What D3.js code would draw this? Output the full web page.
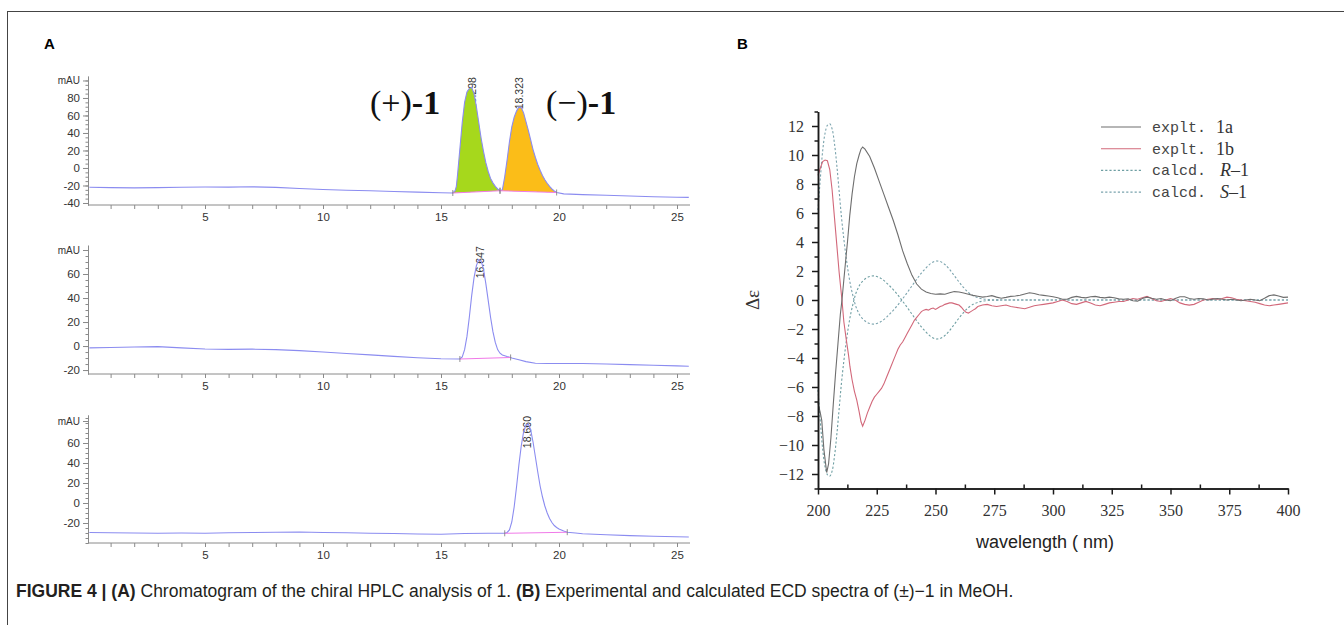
<!DOCTYPE html>
<html>
<head>
<meta charset="utf-8">
<script src="https://cdn.jsdelivr.net/npm/d3@7"></script>
<style>
body { margin: 0; background: #fff; }
svg { display: block; }
</style>
</head>
<body>
<script>
// ---------- Panel A data: chromatograms (time in min, signal in mAU) ----------
var chromXTicks = [5, 10, 15, 20, 25];

var topTrace = [[0.1,-22],[1,-22.4],[2,-22.7],[3,-22.4],[4,-22.0],[5,-21.7],[6,-21.9],[7,-21.5],[8,-22.2],[9,-23.4],[10,-24.6],[11,-25.4],[12,-26.1],[13,-26.8],[14,-27.6],[15,-28.3],[15.5,-28.6],[15.6,-26],[15.65,-21],[15.7,-8],[15.8,22],[15.9,52],[16.0,75],[16.1,87],[16.2,91],[16.3,92],[16.4,85],[16.5,70],[16.6,52],[16.7,34],[16.8,19],[16.9,6],[17.0,-4],[17.1,-12],[17.2,-17],[17.3,-21],[17.4,-24],[17.5,-26],[17.6,-25],[17.7,-10],[17.8,9],[17.9,30],[18.0,47],[18.1,58],[18.2,65],[18.3,69.5],[18.4,69],[18.5,63],[18.6,53],[18.7,43],[18.8,32],[18.9,21],[19.0,12],[19.1,4],[19.2,-2.5],[19.3,-8.5],[19.4,-13.5],[19.5,-17.5],[19.6,-21],[19.7,-24],[19.8,-26.3],[19.9,-28],[20.2,-29.6],[21,-30.4],[22,-31.2],[23,-32],[24,-32.8],[25,-33.4],[25.5,-33.6]];
var topYTicks = [-40, -20, 0, 20, 40, 60, 80];
var topPeakRt = [16.298, 18.323];
var topPeakLabels = ["16.298", "18.323"];
var topPeakStart = [[15.5, -28.6], [17.5, -26]];
var topPeakEnd = [[17.5, -26], [19.9, -28]];

var midTrace = [[0.1,-1.5],[1,-1.2],[2,-0.8],[3,-0.5],[4,-1.5],[5,-2.5],[6,-2.8],[7,-2.6],[8,-3.0],[9,-3.8],[10,-5.0],[11,-6.2],[12,-7.4],[13,-8.6],[14,-9.8],[15,-10.6],[15.8,-10.8],[15.9,-9],[16.0,-3],[16.1,8],[16.2,24],[16.3,42],[16.4,57],[16.5,67],[16.6,72],[16.7,71],[16.8,64],[16.9,52],[17.0,38],[17.1,24],[17.2,12],[17.3,3],[17.4,-3],[17.5,-6],[17.6,-7.5],[17.8,-8.8],[17.95,-9.5],[18.0,-10],[18.3,-11.5],[18.6,-13],[19.0,-14.3],[19.5,-14.6],[20,-14.5],[21,-14.6],[22,-15],[23,-15.5],[24,-16],[25,-16.5],[25.5,-16.8]];
var midYTicks = [-20, 0, 20, 40, 60];
var midPeakRt = [16.647];
var midPeakLabels = ["16.647"];
var midPeakStart = [[15.8, -10.8]];
var midPeakEnd = [[17.95, -9.5]];

var botTrace = [[0.1,-29.5],[1,-29.8],[2,-30],[3,-30.2],[4,-30],[5,-30.2],[6,-29.8],[7,-29.5],[8,-29.2],[9,-29],[10,-29.5],[11,-29.8],[12,-30.2],[13,-30.5],[14,-31],[15,-31.2],[16,-30.5],[17,-30.2],[17.7,-30.3],[17.8,-29.5],[17.9,-27],[18.0,-19],[18.1,-4],[18.2,16],[18.3,38],[18.4,57],[18.5,71],[18.6,78],[18.7,79],[18.8,73],[18.9,61],[19.0,46],[19.1,31],[19.2,17],[19.3,6],[19.4,-3],[19.5,-10],[19.6,-15.5],[19.7,-19.5],[19.8,-22.5],[19.9,-24.5],[20.0,-26],[20.2,-28],[20.35,-29.2],[20.7,-30],[21,-30.8],[22,-31.8],[23,-32.6],[24,-33.2],[25,-33.8],[25.5,-34]];
var botYTicks = [-20, 0, 20, 40, 60];
var botPeakRt = [18.66];
var botPeakLabels = ["18.660"];
var botPeakStart = [[17.7, -30.3]];
var botPeakEnd = [[20.35, -29.2]];

// ---------- Panel B data: ECD spectra (wavelength nm, delta epsilon) ----------
var wavelengthTicks = [200, 225, 250, 275, 300, 325, 350, 375, 400];
var deltaEpsTicks = [-12, -10, -8, -6, -4, -2, 0, 2, 4, 6, 8, 10, 12];

var explt1a = [[200,-7.1],[201,-7.8],[201.6,-8.3],[202.5,-10.3],[203.7,-11.9],[204.5,-11.3],[205.5,-9.5],[206.5,-7.2],[207.5,-5.0],[208.5,-3.0],[209.5,-1.0],[210.2,0],[211,1.4],[212,3.1],[212.6,4.1],[213.5,5.8],[214.5,7.3],[215.5,8.5],[216.5,9.4],[217.5,10.0],[218.3,10.4],[219,10.55],[220,10.4],[222,9.9],[224,9.1],[226,8.2],[228,7.3],[230,6.4],[232,5.5],[234,4.5],[236,3.4],[238,2.5],[240,1.7],[242,1.1],[244,0.75],[246,0.55],[248,0.45],[250,0.4],[252,0.42],[254,0.4],[256,0.5],[258,0.58],[260,0.55],[262,0.48],[264,0.4],[266,0.32],[268,0.26],[270,0.2],[272,0.24],[274,0.3],[276,0.2],[278,0.12],[280,0.18],[282,0.25],[284,0.28],[286,0.33],[288,0.42],[290,0.5],[292,0.45],[294,0.36],[296,0.32],[298,0.28],[300,0.22],[302,0.15],[304,0.05],[306,0.05],[308,0.18],[310,0.25],[312,0.18],[314,0.15],[316,0.22],[318,0.25],[320,0.18],[322,0.15],[324,0.2],[326,0.15],[328,0.08],[330,0.05],[332,0.08],[334,-0.05],[336,-0.08],[338,0.1],[340,0.2],[342,0.12],[344,0.05],[346,0.1],[348,0.0],[350,-0.05],[352,0.1],[354,0.22],[356,0.22],[358,0.1],[360,0.05],[362,0.1],[364,0.08],[366,0.0],[368,0.06],[370,0.1],[372,0.05],[374,0.0],[376,0.05],[378,0.0],[380,-0.05],[382,0.0],[384,0.05],[386,0.0],[388,-0.05],[390,0.12],[392,0.3],[394,0.35],[396,0.28],[398,0.18],[400,0.2]];

var explt1b = [[200,8.6],[201,9.1],[202,9.55],[203,9.65],[204,9.6],[205,9.0],[206,7.6],[207,5.7],[208,3.8],[209,1.9],[210.2,0],[211,-1.5],[212,-2.7],[213,-3.8],[213.6,-4.6],[214.5,-5.5],[215.5,-6.3],[216.5,-6.9],[217.5,-7.7],[218.3,-8.4],[219,-8.7],[220,-8.3],[221,-7.8],[222,-7.4],[223,-7.0],[224,-6.7],[225,-6.5],[226,-6.3],[227,-6.1],[228,-5.8],[229,-5.4],[230,-5.0],[231,-4.6],[232,-4.2],[233,-3.8],[234,-3.4],[235,-3.1],[236,-2.9],[237,-2.6],[238,-2.3],[239,-2.0],[240,-1.7],[241,-1.4],[242,-1.2],[243,-1.0],[244,-0.8],[245,-0.7],[246,-0.65],[247,-0.7],[248,-0.6],[249,-0.55],[250,-0.65],[251,-0.55],[252,-0.45],[253,-0.4],[254,-0.3],[255,-0.25],[256,-0.2],[257,-0.2],[258,-0.25],[259,-0.3],[260,-0.35],[261,-0.5],[262,-0.7],[263,-0.85],[264,-0.9],[265,-0.8],[266,-0.7],[267,-0.6],[268,-0.45],[270,-0.35],[272,-0.3],[274,-0.4],[276,-0.45],[278,-0.4],[280,-0.35],[282,-0.45],[284,-0.5],[286,-0.55],[288,-0.6],[290,-0.5],[292,-0.4],[294,-0.35],[296,-0.3],[298,-0.25],[300,-0.2],[302,-0.1],[304,0.0],[306,-0.1],[308,-0.25],[310,-0.3],[312,-0.2],[314,-0.1],[316,-0.2],[318,-0.35],[320,-0.4],[322,-0.3],[324,-0.2],[326,-0.15],[328,-0.1],[330,-0.1],[332,0.0],[334,0.1],[336,0.05],[338,0.15],[340,0.25],[342,0.1],[344,-0.05],[346,-0.1],[348,0.0],[350,0.1],[352,0.0],[354,-0.2],[356,-0.3],[358,-0.35],[360,-0.3],[362,-0.15],[364,0.0],[366,0.05],[368,0.1],[370,0.05],[372,0.1],[374,0.2],[376,0.15],[378,0.05],[380,0.0],[382,-0.05],[384,-0.1],[386,-0.15],[388,-0.25],[390,-0.35],[392,-0.4],[394,-0.35],[396,-0.3],[398,-0.25],[400,-0.2]];

var calcdR = [[200,-6.2],[201,-8.4],[202,-10.3],[203,-11.5],[204,-12.05],[205,-12.15],[206,-11.8],[207,-10.8],[208,-9.3],[209,-7.5],[210,-5.7],[211,-4.2],[212,-2.9],[213,-1.8],[214,-0.9],[215,-0.2],[216,0.4],[217,0.8],[218,1.1],[220,1.45],[222,1.62],[224,1.66],[226,1.56],[228,1.35],[230,1.05],[232,0.72],[234,0.34],[236,-0.08],[238,-0.52],[240,-0.98],[242,-1.43],[244,-1.85],[246,-2.22],[248,-2.52],[250,-2.68],[252,-2.65],[254,-2.45],[256,-2.1],[258,-1.68],[260,-1.25],[262,-0.85],[264,-0.52],[266,-0.3],[268,-0.16],[270,-0.08],[274,-0.02],[280,0],[300,0],[350,0],[400,0]];

var calcdS = [[200,6.2],[201,8.4],[202,10.3],[203,11.5],[204,12.05],[205,12.15],[206,11.8],[207,10.8],[208,9.3],[209,7.5],[210,5.7],[211,4.2],[212,2.9],[213,1.8],[214,0.9],[215,0.2],[216,-0.4],[217,-0.8],[218,-1.1],[220,-1.45],[222,-1.62],[224,-1.66],[226,-1.56],[228,-1.35],[230,-1.05],[232,-0.72],[234,-0.34],[236,0.08],[238,0.52],[240,0.98],[242,1.43],[244,1.85],[246,2.22],[248,2.52],[250,2.68],[252,2.65],[254,2.45],[256,2.1],[258,1.68],[260,1.25],[262,0.85],[264,0.52],[266,0.3],[268,0.16],[270,0.08],[274,0.02],[280,0],[300,0],[350,0],[400,0]];

var legendNames = ["explt.", "explt.", "calcd.", "calcd."];
var legendIds = ["1a", "1b", "R", "S"];

// ---------- SVG ----------
var svg = d3.select("body").append("svg")
  .attr("width", 1344)
  .attr("height", 625);

// outer frame
svg.append("rect")
  .attr("x", 7.5).attr("y", 11.5)
  .attr("width", 1400).attr("height", 700)
  .attr("fill", "none")
  .attr("stroke", "#444")
  .attr("stroke-width", 1);

// panel letters
svg.append("text").attr("x", 44).attr("y", 49)
  .style("font-family", "Liberation Sans, Arial, sans-serif")
  .style("font-weight", "bold").style("font-size", "15px").text("A");
svg.append("text").attr("x", 737).attr("y", 49)
  .style("font-family", "Liberation Sans, Arial, sans-serif")
  .style("font-weight", "bold").style("font-size", "15px").text("B");

// ---------- Panel A ----------
var chromX = d3.scaleLinear().domain([0, 25.5]).range([87, 688.8]);
var traceColor = "#8b8cf0";
var baseColor = "#f07ae8";

function drawChrom(id, trace, domain, range, yTicks, mauValue, rts, labels, starts, ends, fills) {
  var g = svg.append("g");
  var y = d3.scaleLinear().domain(domain).range(range);

  svg.append("clipPath").attr("id", "clip" + id)
    .append("rect")
    .attr("x", 88).attr("y", range[1])
    .attr("width", 603).attr("height", range[0] - range[1]);

  var plot = g.append("g").attr("clip-path", "url(#clip" + id + ")");

  // retention time labels (rotated), drawn first so fills can cover them
  plot.selectAll(".rt")
    .data(rts)
    .enter().append("text")
    .attr("transform", function(d) { return "translate(" + (chromX(d) + 4) + "," + (range[1] + 1) + ") rotate(-90)"; })
    .attr("text-anchor", "end")
    .style("font-family", "Liberation Sans, Arial, sans-serif")
    .style("font-size", "10.5px")
    .style("fill", "#333")
    .text(function(d, i) { return labels[i]; });

  // filled peaks
  if (fills) {
    starts.forEach(function(s, i) {
      var e = ends[i];
      var base = d3.scaleLinear().domain([s[0], e[0]]).range([s[1], e[1]]);
      var pts = trace.filter(function(d) { return d[0] >= s[0] && d[0] <= e[0]; });
      var area = d3.area()
        .x(function(d) { return chromX(d[0]); })
        .y0(function(d) { return y(base(d[0])); })
        .y1(function(d) { return y(d[1]); });
      plot.append("path").datum(pts)
        .attr("d", area)
        .attr("fill", fills[i]);
    });
  }

  // trace
  var line = d3.line()
    .x(function(d) { return chromX(d[0]); })
    .y(function(d) { return y(d[1]); });
  plot.append("path").datum(trace)
    .attr("d", line)
    .attr("fill", "none")
    .attr("stroke", traceColor)
    .attr("stroke-width", 1.1);

  // integration baselines and markers
  starts.forEach(function(s, i) {
    var e = ends[i];
    plot.append("line")
      .attr("x1", chromX(s[0])).attr("y1", y(s[1]))
      .attr("x2", chromX(e[0])).attr("y2", y(e[1]))
      .attr("stroke", baseColor).attr("stroke-width", 1.1);
    [s, e].forEach(function(p) {
      plot.append("line")
        .attr("x1", chromX(p[0])).attr("x2", chromX(p[0]))
        .attr("y1", y(p[1]) - 3).attr("y2", y(p[1]) + 3)
        .attr("stroke", "#777").attr("stroke-width", 0.8);
    });
  });

  // y axis: minor ticks then major
  var minor = d3.range(Math.ceil(domain[0] / 5) * 5, domain[1], 5);
  g.append("g")
    .attr("transform", "translate(88,0)")
    .call(d3.axisLeft(y).tickValues(minor).tickSize(2.5).tickSizeOuter(0).tickFormat(""))
    .call(function(a) { a.selectAll("line, path").attr("stroke", "#8a8a8a"); });
  var ya = g.append("g")
    .attr("transform", "translate(88,0)")
    .call(d3.axisLeft(y).tickValues(yTicks.concat([mauValue])).tickSize(5).tickSizeOuter(0).tickPadding(3)
      .tickFormat(function(d) { return d === mauValue ? "mAU" : d; }));
  ya.selectAll("line, path").attr("stroke", "#8a8a8a");
  ya.selectAll("text")
    .style("font-family", "Liberation Sans, Arial, sans-serif")
    .style("font-size", function(d) { return d === mauValue ? "10px" : "11.5px"; })
    .style("fill", "#333");

  // x axis
  var xa = g.append("g")
    .attr("transform", "translate(0," + range[0] + ")")
    .call(d3.axisBottom(chromX).tickValues(d3.range(1, 26)).tickSize(4).tickSizeOuter(0).tickPadding(4)
      .tickFormat(function(d) { return chromXTicks.indexOf(d) >= 0 ? d : ""; }));
  xa.select(".domain").attr("d", "M88,0H690");
  xa.selectAll("line, path").attr("stroke", "#8a8a8a");
  xa.selectAll("text")
    .style("font-family", "Liberation Sans, Arial, sans-serif")
    .style("font-size", "11.5px")
    .style("fill", "#333");
}

drawChrom("top", topTrace, [-42.3, 105], [205, 76.1], topYTicks, 100,
  topPeakRt, topPeakLabels, topPeakStart, topPeakEnd, ["#a6d81c", "#fbbd18"]);
drawChrom("mid", midTrace, [-23.3, 84], [374, 245.2], midYTicks, 80,
  midPeakRt, midPeakLabels, midPeakStart, midPeakEnd, null);
drawChrom("bot", botTrace, [-40, 88], [543, 415], botYTicks, 82,
  botPeakRt, botPeakLabels, botPeakStart, botPeakEnd, null);

// enantiomer labels
var enLabels = [["(+)", 370], ["(\u2212)", 546]];
enLabels.forEach(function(l) {
  var t = svg.append("text")
    .attr("x", l[1]).attr("y", 114)
    .style("font-family", "Liberation Serif, Times New Roman, serif")
    .style("font-size", "34px")
    .style("fill", "#111");
  t.append("tspan").text(l[0]);
  t.append("tspan").style("font-weight", "bold").text("-1");
});

// ---------- Panel B ----------
var xB = d3.scaleLinear().domain([200, 400]).range([818, 1288]);
var yB = d3.scaleLinear().domain([-13, 13]).range([488.5, 111.5]);
var gB = svg.append("g");

var lineB = d3.line()
  .x(function(d) { return xB(d[0]); })
  .y(function(d) { return yB(d[1]); });
var lineSmooth = d3.line()
  .curve(d3.curveCatmullRom)
  .x(function(d) { return xB(d[0]); })
  .y(function(d) { return yB(d[1]); });

var seriesColors = ["#6e6e6e", "#d2687a", "#6f9fa3", "#7aa3ad"];

gB.append("path").datum(calcdR).attr("d", lineSmooth)
  .attr("fill", "none").attr("stroke", seriesColors[2]).attr("stroke-width", 1.1).attr("stroke-dasharray", "2.2,2");
gB.append("path").datum(calcdS).attr("d", lineSmooth)
  .attr("fill", "none").attr("stroke", seriesColors[3]).attr("stroke-width", 1.1).attr("stroke-dasharray", "2.2,2");
gB.append("path").datum(explt1b).attr("d", lineB)
  .attr("fill", "none").attr("stroke", seriesColors[1]).attr("stroke-width", 1.1);
gB.append("path").datum(explt1a).attr("d", lineB)
  .attr("fill", "none").attr("stroke", seriesColors[0]).attr("stroke-width", 1.1);

// axes
var minorX = d3.range(212.5, 400, 25);
gB.append("g").attr("transform", "translate(0,488.5)")
  .call(d3.axisTop(xB).tickValues(minorX).tickSize(4).tickSizeOuter(0).tickFormat(""));
var xaB = gB.append("g").attr("transform", "translate(0,488.5)")
  .call(d3.axisBottom(xB).tickValues(wavelengthTicks).tickSize(6).tickSizeOuter(0).tickPadding(10));
var minorY = d3.range(-13, 14, 1).filter(function(d) { return d % 2 !== 0; });
gB.append("g").attr("transform", "translate(818,0)")
  .call(d3.axisLeft(yB).tickValues(minorY).tickSize(3.5).tickSizeOuter(0).tickFormat(""));
var yaB = gB.append("g").attr("transform", "translate(818,0)")
  .call(d3.axisLeft(yB).tickValues(deltaEpsTicks).tickSize(6).tickSizeOuter(0).tickPadding(8)
    .tickFormat(function(d) { return d < 0 ? "\u2212" + (-d) : d; }));
gB.selectAll(".domain, .tick line").attr("stroke", "#1a1a1a").attr("stroke-width", 1.5);
gB.selectAll(".tick text")
  .style("font-family", "Liberation Serif, Times New Roman, serif")
  .style("font-size", "16px")
  .style("fill", "#333");

// axis titles
gB.append("text")
  .attr("transform", "translate(759,300) rotate(-90)")
  .attr("text-anchor", "middle")
  .style("font-family", "Liberation Serif, Times New Roman, serif")
  .style("font-size", "19px")
  .style("fill", "#333")
  .text("\u0394\u03b5");
gB.append("text")
  .attr("x", 1045).attr("y", 548)
  .attr("text-anchor", "middle")
  .style("font-family", "Liberation Sans, Arial, sans-serif")
  .style("font-size", "18px")
  .style("fill", "#222")
  .text("wavelength ( nm)");

// legend
var legend = gB.selectAll(".legend")
  .data(legendNames)
  .enter().append("g")
  .attr("class", "legend")
  .attr("transform", function(d, i) { return "translate(0," + (127 + i * 21.7) + ")"; });
legend.append("line")
  .attr("x1", 1101).attr("x2", 1141)
  .attr("stroke", function(d, i) { return seriesColors[i]; })
  .attr("stroke-width", 1.1)
  .attr("stroke-dasharray", function(d, i) { return i >= 2 ? "2.2,2" : null; });
legend.append("text")
  .attr("x", 1152).attr("y", 5)
  .style("font-family", "Liberation Mono, monospace")
  .style("font-size", "15px")
  .style("fill", "#444")
  .text(function(d) { return d; });
legend.each(function(d, i) {
  var t = d3.select(this).append("text")
    .attr("x", i >= 2 ? 1220 : 1216).attr("y", 6)
    .style("font-family", "Liberation Serif, Times New Roman, serif")
    .style("font-size", "18px")
    .style("fill", "#333");
  if (i < 2) {
    t.text(legendIds[i]);
  } else {
    t.append("tspan").style("font-style", "italic").text(legendIds[i]);
    t.append("tspan").text("\u20131");
  }
});

// ---------- caption ----------
var cap = svg.append("text")
  .attr("x", 16).attr("y", 597)
  .style("font-family", "Liberation Sans, Arial, sans-serif")
  .style("font-size", "17.5px")
  .style("fill", "#231f20");
cap.append("tspan").style("font-weight", "bold").text("FIGURE 4 | (A)");
cap.append("tspan").text(" Chromatogram of the chiral HPLC analysis of 1. ");
cap.append("tspan").style("font-weight", "bold").text("(B)");
cap.append("tspan").text(" Experimental and calculated ECD spectra of (\u00b1)\u22121 in MeOH.");
</script>
</body>
</html>
